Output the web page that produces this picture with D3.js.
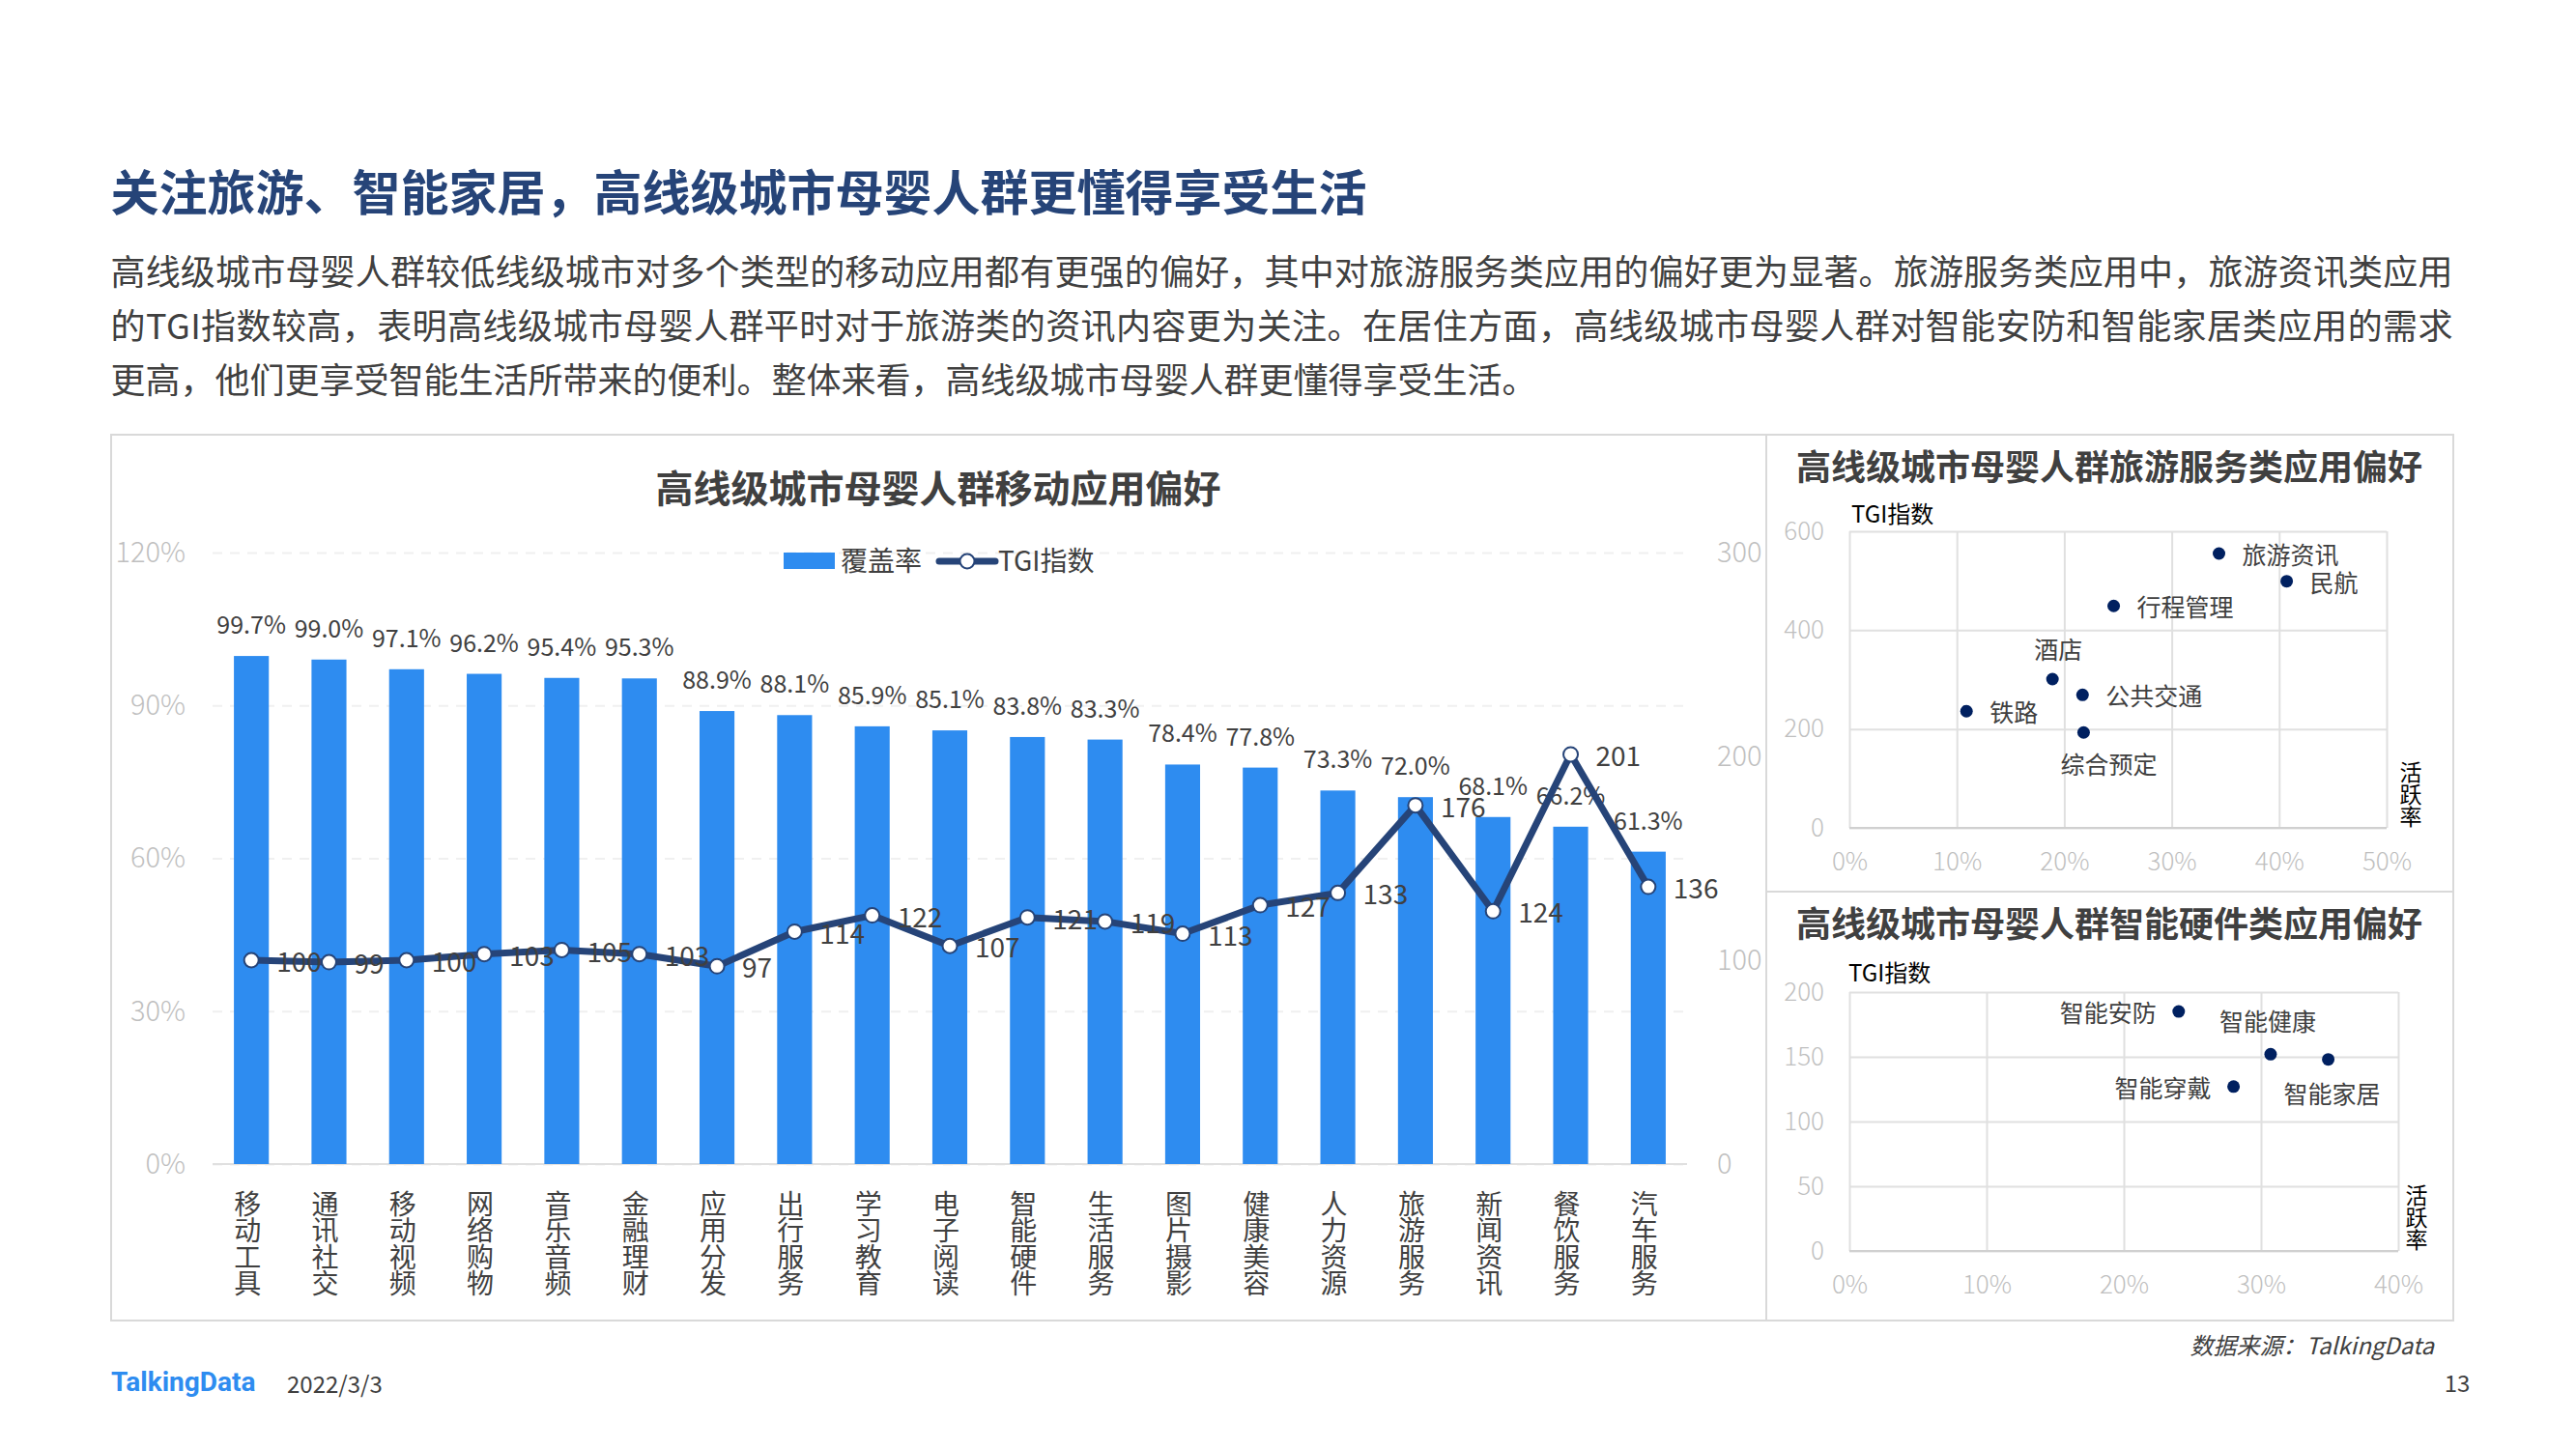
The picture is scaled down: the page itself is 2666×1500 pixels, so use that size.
<!DOCTYPE html>
<html><head><meta charset="utf-8">
<script src="https://cdn.jsdelivr.net/npm/d3@7/dist/d3.min.js"></script>
<style>
html,body{margin:0;padding:0;background:#fff}
svg{display:block}
text{font-family:"Noto Sans CJK SC","Noto Sans",sans-serif}
</style></head><body>
<svg id="c" width="2666" height="1500"></svg>
<script>
const categories=["移动工具","通讯社交","移动视频","网络购物","音乐音频","金融理财","应用分发","出行服务","学习教育","电子阅读","智能硬件","生活服务","图片摄影","健康美容","人力资源","旅游服务","新闻资讯","餐饮服务","汽车服务"];
const coverage=[99.7,99.0,97.1,96.2,95.4,95.3,88.9,88.1,85.9,85.1,83.8,83.3,78.4,77.8,73.3,72.0,68.1,66.2,61.3];
const tgi=[100,99,100,103,105,103,97,114,122,107,121,119,113,127,133,176,124,201,136];
const leftTicks=[0,30,60,90,120];
const rightTicks=[0,100,200,300];
const travelNames=["旅游资讯","民航","行程管理","酒店","公共交通","铁路","综合预定"];
const travelX=[34.4,40.7,24.6,18.9,21.7,10.9,21.8];
const travelY=[555,499,449,301,269,236,193];
const hardwareNames=["智能安防","智能健康","智能家居","智能穿戴"];
const hardwareX=[24.0,30.7,34.9,28.0];
const hardwareY=[185,152,148,127];
const titleText="关注旅游、智能家居，高线级城市母婴人群更懂得享受生活";
const bodyLines=["高线级城市母婴人群较低线级城市对多个类型的移动应用都有更强的偏好，其中对旅游服务类应用的偏好更为显著。旅游服务类应用中，旅游资讯类应用","的TGI指数较高，表明高线级城市母婴人群平时对于旅游类的资讯内容更为关注。在居住方面，高线级城市母婴人群对智能安防和智能家居类应用的需求","更高，他们更享受智能生活所带来的便利。整体来看，高线级城市母婴人群更懂得享受生活。"];

const svg=d3.select("#c");
const DARK="#404040",GREY="#bfbfbf",GRID="#e0e0e0",BAR="#2e8cf0",LINE="#264478",DOT="#002060";
const label=(x,y,t,o={})=>svg.append("text").attr("x",x).attr("y",y).attr("dy","0.36em")
  .attr("font-size",o.size||25).attr("fill",o.fill||DARK).attr("font-weight",o.weight||400)
  .attr("text-anchor",o.anchor||"start").attr("font-style",o.style||"normal").text(t);

// heading + body
label(114.5,200,titleText,{size:50,fill:"#264478",weight:700});
bodyLines.forEach((l,i)=>{
  const t=label(114.5,282+i*56,l,{size:36});
  if(i<2) t.attr("textLength",2424).attr("lengthAdjust","spacing");
});

// panel frame
const frame=svg.append("g").attr("fill","none").attr("stroke","#d9d9d9").attr("stroke-width",2);
frame.append("rect").attr("x",115).attr("y",450).attr("width",2424).attr("height",917);
frame.append("line").attr("x1",1828).attr("x2",1828).attr("y1",450).attr("y2",1367);
frame.append("line").attr("x1",1828).attr("x2",2539).attr("y1",923).attr("y2",923);

// main chart
const x=d3.scaleBand().domain(categories).range([220,1746]).paddingInner(.55).paddingOuter(.275);
const yL=d3.scaleLinear().domain([0,120]).range([1205,572]);
const yR=d3.scaleLinear().domain([0,300]).range([1205,572]);
label(971,506,"高线级城市母婴人群移动应用偏好",{size:39,weight:700,anchor:"middle"});

const gridL=svg.append("g").attr("transform","translate(220,0)").call(d3.axisLeft(yL).tickValues(leftTicks).tickSize(-1526).tickFormat(d=>d+"%"));
gridL.select(".domain").remove();
gridL.selectAll(".tick line").attr("stroke","#f0f0f0").attr("stroke-width",2).attr("stroke-dasharray","10 8");
gridL.selectAll(".tick text").attr("x",-28).attr("font-size",29).attr("fill",GREY).attr("font-weight",300).style("font-family",'"Noto Sans CJK SC"');
const axR=svg.append("g").attr("transform","translate(1746,0)").call(d3.axisRight(yR).tickValues(rightTicks).tickSize(0));
axR.select(".domain").remove();
axR.selectAll(".tick text").attr("x",31).attr("font-size",29).attr("fill",GREY).attr("font-weight",300).style("font-family",'"Noto Sans CJK SC"');
svg.append("line").attr("x1",220).attr("x2",1746).attr("y1",yL(0)).attr("y2",yL(0)).attr("stroke",GRID).attr("stroke-width",2);

svg.append("g").selectAll("rect").data(categories).join("rect")
  .attr("x",d=>x(d)).attr("width",x.bandwidth())
  .attr("y",(d,i)=>yL(coverage[i])).attr("height",(d,i)=>yL(0)-yL(coverage[i])).attr("fill",BAR);

const cx=d=>x(d)+x.bandwidth()/2;
svg.append("g").selectAll("text").data(categories).join("text")
  .attr("x",cx).attr("y",(d,i)=>yL(coverage[i])-32).attr("dy","0.36em").attr("text-anchor","middle")
  .attr("font-size",25).attr("fill",DARK).text((d,i)=>coverage[i].toFixed(1)+"%");

const line=d3.line().x((d,i)=>cx(categories[i])).y(d=>yR(d));
svg.append("path").attr("d",line(tgi)).attr("fill","none").attr("stroke",LINE).attr("stroke-width",7).attr("stroke-linejoin","round");
svg.append("g").selectAll("circle").data(tgi).join("circle")
  .attr("cx",(d,i)=>cx(categories[i])).attr("cy",d=>yR(d)).attr("r",7.5).attr("fill","#fff").attr("stroke",LINE).attr("stroke-width",2);
svg.append("g").selectAll("text").data(tgi).join("text")
  .attr("x",(d,i)=>cx(categories[i])+26).attr("y",d=>yR(d)+2).attr("dy","0.36em")
  .attr("font-size",28).attr("fill",DARK).text(d=>d);

// vertical category labels
const cat=svg.append("g").selectAll("text").data(categories).join("text")
  .attr("text-anchor","middle").attr("font-size",28).attr("fill",DARK);
cat.each(function(d){
  const t=d3.select(this),X=cx(d)-4;
  d.split("").forEach((ch,i)=>t.append("tspan").attr("x",X).attr("y",1233+13.75+i*27.5).attr("dy","0.36em").text(ch));
});

// legend
svg.append("rect").attr("x",811).attr("y",572).attr("width",53).attr("height",17).attr("fill",BAR);
label(870,581,"覆盖率",{size:28});
svg.append("line").attr("x1",972).attr("x2",1030).attr("y1",581).attr("y2",581).attr("stroke",LINE).attr("stroke-width",7).attr("stroke-linecap","round");
svg.append("circle").attr("cx",1001).attr("cy",581).attr("r",7.5).attr("fill","#fff").attr("stroke",LINE).attr("stroke-width",2);
label(1033,581,"TGI指数",{size:28});

// scatter panels
function scatter(o){
  const X=d3.scaleLinear().domain(o.xDomain).range(o.xRange);
  const Y=d3.scaleLinear().domain(o.yDomain).range(o.yRange);
  label(2183,o.titleY,o.title,{size:36,weight:700,anchor:"middle"});
  const gx=svg.append("g").attr("transform",`translate(0,${o.yRange[0]})`)
    .call(d3.axisBottom(X).tickValues(o.xTicks).tickSize(o.yRange[1]-o.yRange[0]).tickFormat(d=>d+"%"));
  gx.select(".domain").remove();
  gx.selectAll(".tick line").attr("stroke",GRID).attr("stroke-width",2);
  gx.selectAll(".tick text").attr("y",35).attr("dy","0.36em").attr("font-size",26).attr("fill",GREY).attr("font-weight",300).style("font-family",'"Noto Sans CJK SC"');
  const gy=svg.append("g").attr("transform",`translate(${o.xRange[0]},0)`)
    .call(d3.axisLeft(Y).tickValues(o.yTicks).tickSize(o.xRange[0]-o.xRange[1]));
  gy.select(".domain").remove();
  gy.selectAll(".tick line").attr("stroke",GRID).attr("stroke-width",2);
  gy.selectAll(".tick text").attr("x",-26).attr("font-size",26).attr("fill",GREY).attr("font-weight",300).style("font-family",'"Noto Sans CJK SC"');
  svg.append("line").attr("x1",o.xRange[0]).attr("x2",o.xRange[1]).attr("y1",o.yRange[0]).attr("y2",o.yRange[0]).attr("stroke","#d0d0d0").attr("stroke-width",2);
  svg.append("g").selectAll("circle").data(o.names).join("circle")
    .attr("cx",(d,i)=>X(o.xs[i])).attr("cy",(d,i)=>Y(o.ys[i])).attr("r",6.5).attr("fill",DOT);
  svg.append("g").selectAll("text").data(o.names).join("text")
    .attr("x",(d,i)=>X(o.xs[i])+o.offsets[i][0]).attr("y",(d,i)=>Y(o.ys[i])+o.offsets[i][1]).attr("dy","0.36em")
    .attr("text-anchor",(d,i)=>o.offsets[i][2]).attr("font-size",25).attr("fill",DARK).text(d=>d);
  label(o.tgiX,o.tgiY,"TGI指数",{size:24,fill:"#000"});
  const v=svg.append("text").attr("text-anchor","middle").attr("font-size",23).attr("fill","#000");
  "活跃率".split("").forEach((ch,i)=>v.append("tspan").attr("x",o.xRange[1]+o.vDx).attr("y",o.yRange[0]-69+11.5+i*23).attr("dy","0.36em").text(ch));
}
scatter({title:"高线级城市母婴人群旅游服务类应用偏好",titleY:484,tgiX:1916,tgiY:532,names:travelNames,xs:travelX,ys:travelY,
  xDomain:[0,50],xRange:[1914,2470],yDomain:[0,600],yRange:[857,550],xTicks:[0,10,20,30,40,50],yTicks:[0,200,400,600],vDx:25,
  offsets:[[24,2,"start"],[24,2,"start"],[24,2,"start"],[6,-30,"middle"],[24,2,"start"],[24,2,"start"],[26,34,"middle"]]});
scatter({title:"高线级城市母婴人群智能硬件类应用偏好",titleY:957,tgiX:1913,tgiY:1007,names:hardwareNames,xs:hardwareX,ys:hardwareY,
  xDomain:[0,40],xRange:[1914,2482],yDomain:[0,200],yRange:[1295,1027],xTicks:[0,10,20,30,40],yTicks:[0,50,100,150,200],vDx:19,
  offsets:[[-23,2,"end"],[-3,-33,"middle"],[4,36,"middle"],[-23,2,"end"]]});

// footer
label(2519,1393,"数据来源：TalkingData",{size:24,anchor:"end",style:"italic"});
label(115,1430,"TalkingData",{size:28,weight:700,fill:"#2e8cf0"}).style("font-family","Roboto");
label(297,1433,"2022/3/3",{size:24});
label(2543,1432,"13",{size:24,anchor:"middle"});
</script></body></html>
